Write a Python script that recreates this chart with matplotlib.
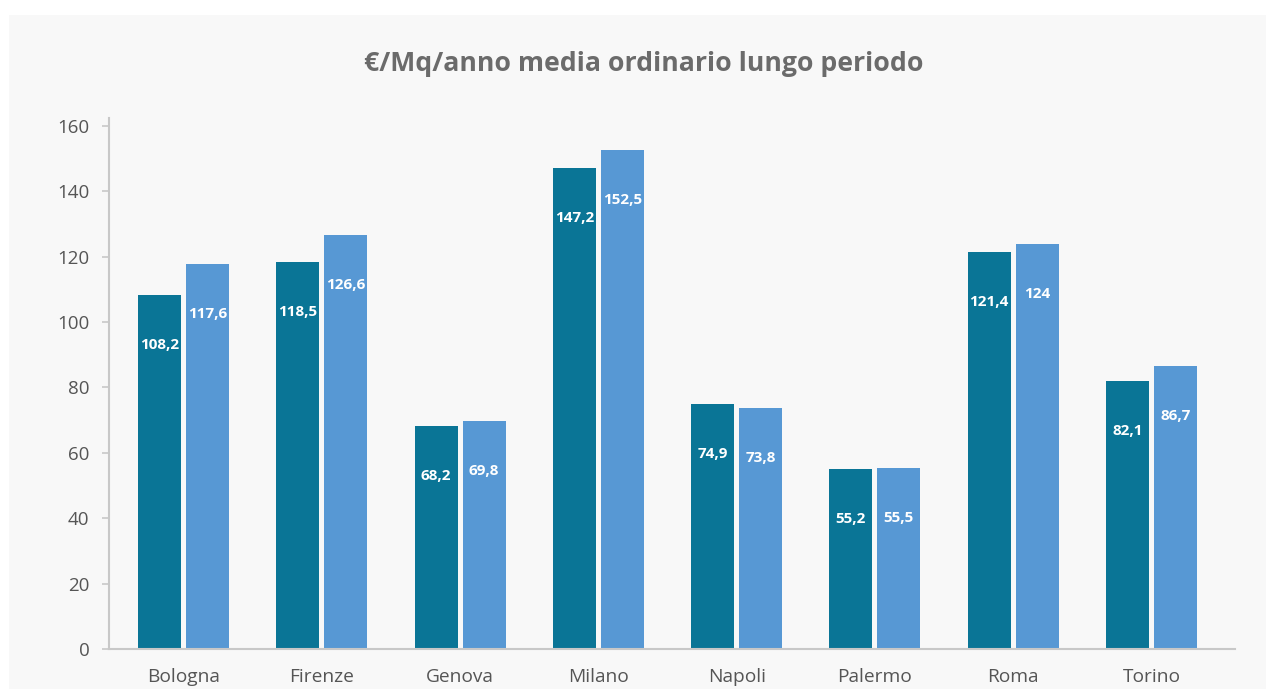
import matplotlib
matplotlib.use('Agg')
import matplotlib.pyplot as plt
import numpy as np
from matplotlib.patches import Rectangle

# dati
citta = ['Bologna', 'Firenze', 'Genova', 'Milano', 'Napoli', 'Palermo', 'Roma', 'Torino']
serie_1 = [108.2, 118.5, 68.2, 147.2, 74.9, 55.2, 121.4, 82.1]
serie_2 = [117.6, 126.6, 69.8, 152.5, 73.8, 55.5, 124.0, 86.7]
y_ticks = [0, 20, 40, 60, 80, 100, 120, 140, 160]

col_1 = '#0a7596'
col_2 = '#5798d4'

fig = plt.figure(figsize=(12.67, 6.89), dpi=100)
fig.patch.set_facecolor('white')
# pannello grigio di sfondo
bg = fig.add_axes([9/1267, 0, 1257/1267, (689-15)/689], zorder=-1)
bg.axis('off')
bg.add_patch(Rectangle((0, 0), 1, 1, transform=bg.transAxes, facecolor='#f8f8f8', edgecolor='none'))

ax = fig.add_axes([109/1267, 40/689, 1126/1267, 531/689])
ax.set_facecolor('none')

x = np.arange(len(citta))
w = 0.311
off = 0.1735
b1 = ax.bar(x - off, serie_1, w, color=col_1, zorder=2)
b2 = ax.bar(x + off, serie_2, w, color=col_2, zorder=2)

def fmt(v):
    s = ('%.1f' % v).replace('.', ',')
    if s.endswith(',0'):
        s = s[:-2]
    return s

for bars, vals in [(b1, serie_1), (b2, serie_2)]:
    for r, v in zip(bars, vals):
        ax.annotate(fmt(v), (r.get_x() + r.get_width()/2, v), xytext=(0, -36),
                    textcoords='offset points', ha='center', va='center',
                    color='white', fontsize=11, fontweight='bold', family='Open Sans', zorder=3)

ax.set_xlim(-0.539, 7.604)
ax.set_ylim(0, 162.4)
ax.set_xticks(x)
ax.set_xticklabels(citta, fontsize=13.8, color='#555555', family='Open Sans')
ax.set_yticks(y_ticks)
ax.set_yticklabels([str(t) for t in y_ticks], fontsize=13.5, color='#555555', family='Open Sans')
ax.tick_params(axis='x', length=0, pad=14)
ax.tick_params(axis='y', length=5, color='#c8c8c8', width=1.2, pad=9)
for s in ['top', 'right']:
    ax.spines[s].set_visible(False)
for s in ['left', 'bottom']:
    ax.spines[s].set_color('#c8c8c8')
    ax.spines[s].set_linewidth(1.5)

fig.text(644/1267, 1 - 64/689, '€/Mq/anno media ordinario lungo periodo', ha='center', va='center',
         fontsize=19.2, fontweight='bold', color='#6b6b6b', family='Open Sans')

fig.savefig('out.png', dpi=100, facecolor=fig.get_facecolor())
